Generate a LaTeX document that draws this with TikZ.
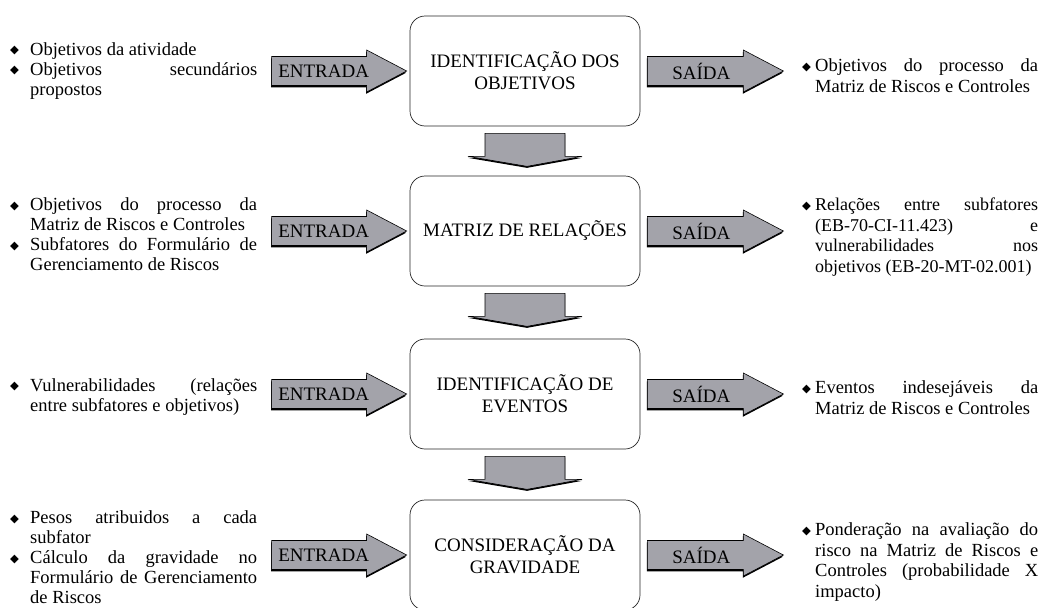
\documentclass[tikz,border=0pt]{standalone}
\usepackage{fontspec}
\setmainfont{Liberation Serif}
\newfontfamily\symfont{DejaVu Sans}
\definecolor{arrowgray}{RGB}{163,163,170}
\tolerance=10000 \hbadness=10000
\newcommand{\diam}{\raisebox{1.2pt}{\symfont\fontsize{11.5}{11.5}\selectfont ◆}}
\newcommand{\bitem}[2]{\par\noindent\hangindent=#1\hangafter=1\makebox[#1][l]{\diam}#2\par}

\begin{document}
\begin{tikzpicture}[x=1pt, y=-1pt,
  stage/.style={draw=black!85, line width=.7pt, rounded corners=15pt, minimum width=230pt, minimum height=110pt, align=center, font=\fontsize{19}{22}\selectfont},
  inlist/.style={anchor=west, inner sep=0pt, text width=247pt, align=justify, font=\fontsize{18.5}{20}\selectfont},
  outlist/.style={anchor=west, inner sep=0pt, text width=236pt, align=justify, font=\fontsize{18.5}{20.5}\selectfont},
  blockarrow/.style={fill=arrowgray, draw=black, line width=.6pt},
  arrowlabel/.style={font=\fontsize{19}{22}\selectfont, inner sep=0pt}]
\useasboundingbox (0,0) rectangle (1045,608);
% Stages
\node[stage] (idobj)  at (525,71)  {IDENTIFICAÇÃO DOS\\OBJETIVOS};
\node[stage] (matrel) at (525,231) {MATRIZ DE RELAÇÕES};
\node[stage] (ideve)  at (525,394) {IDENTIFICAÇÃO DE\\EVENTOS};
\node[stage] (congra) at (525,555) {CONSIDERAÇÃO DA\\GRAVIDADE};
% Inputs
\node[inlist] (inobj) at (10,67) {\bitem{20pt}{Objetivos da atividade}\bitem{20pt}{Objetivos secundários\linebreak propostos}};
\node[inlist] (inrel) at (10,231) {\bitem{20pt}{Objetivos do processo da\linebreak Matriz de Riscos e Controles}\bitem{20pt}{Subfatores do Formulário de\linebreak Gerenciamento de Riscos}};
\node[inlist] (ineve) at (10,393) {\bitem{20pt}{Vulnerabilidades (relações\linebreak entre subfatores e objetivos)}};
\node[inlist] (ingra) at (10,554) {\bitem{20pt}{Pesos atribuidos a cada\linebreak subfator}\bitem{20pt}{Cálculo da gravidade no\linebreak Formulário de Gerenciamento\linebreak de Riscos}};
% Outputs
\node[outlist] (outobj) at (802,72) {\bitem{13pt}{Objetivos do processo da\linebreak Matriz de Riscos e Controles}};
\node[outlist, font=\fontsize{18}{20.5}\selectfont] (outrel) at (802,233) {\bitem{13pt}{Relações entre subfatores\linebreak (EB-70-CI-11.423) e\linebreak vulnerabilidades nos\linebreak objetivos (EB-20-MT-02.001)}};
\node[outlist] (outeve) at (802,394) {\bitem{13pt}{Eventos indesejáveis da\linebreak Matriz de Riscos e Controles}};
\node[outlist] (outgra) at (802,558) {\bitem{13pt}{Ponderação na avaliação do\linebreak risco na Matriz de Riscos e\linebreak Controles (probabilidade X\linebreak impacto)}};
% ENTRADA and SAIDA arrows
\foreach \stg in {idobj,matrel,ideve,congra}{
  \begin{scope}[shift={(\stg.west)}]
    \fill[black, shift={(-.6,1.8)}] (-138,-14.5) -- (-43,-14.5) -- (-43,-21) -- (-3,0) -- (-43,21) -- (-43,14.5) -- (-138,14.5) -- cycle; % shadow
    \draw[blockarrow] (-138,-14.5) -- (-43,-14.5) -- (-43,-21) -- (-3,0) -- (-43,21) -- (-43,14.5) -- (-138,14.5) -- cycle;
    \node[arrowlabel] (ent\stg) at (-86,0) {ENTRADA};
  \end{scope}
  \begin{scope}[shift={(\stg.east)}]
    \fill[black, shift={(-.6,1.8)}] (7,-14.5) -- (103,-14.5) -- (103,-21) -- (143,0) -- (103,21) -- (103,14.5) -- (7,14.5) -- cycle; % shadow
    \draw[blockarrow] (7,-14.5) -- (103,-14.5) -- (103,-21) -- (143,0) -- (103,21) -- (103,14.5) -- (7,14.5) -- cycle;
    \node[arrowlabel] (sai\stg) at (61,0) {SAÍDA};
  \end{scope}
}
% Arrows between stages
\foreach \stg in {idobj,matrel,ideve}{
  \begin{scope}[shift={(\stg.south)}]
    \fill[black, shift={(0,1.5)}] (-40,7) -- (40,7) -- (40,30) -- (57,30) -- (2,40) -- (-57,30) -- (-40,30) -- cycle; % shadow
    \draw[blockarrow] (-40,7) -- (40,7) -- (40,30) -- (57,30) -- (2,40) -- (-57,30) -- (-40,30) -- cycle;
  \end{scope}
}
\end{tikzpicture}
\end{document}
